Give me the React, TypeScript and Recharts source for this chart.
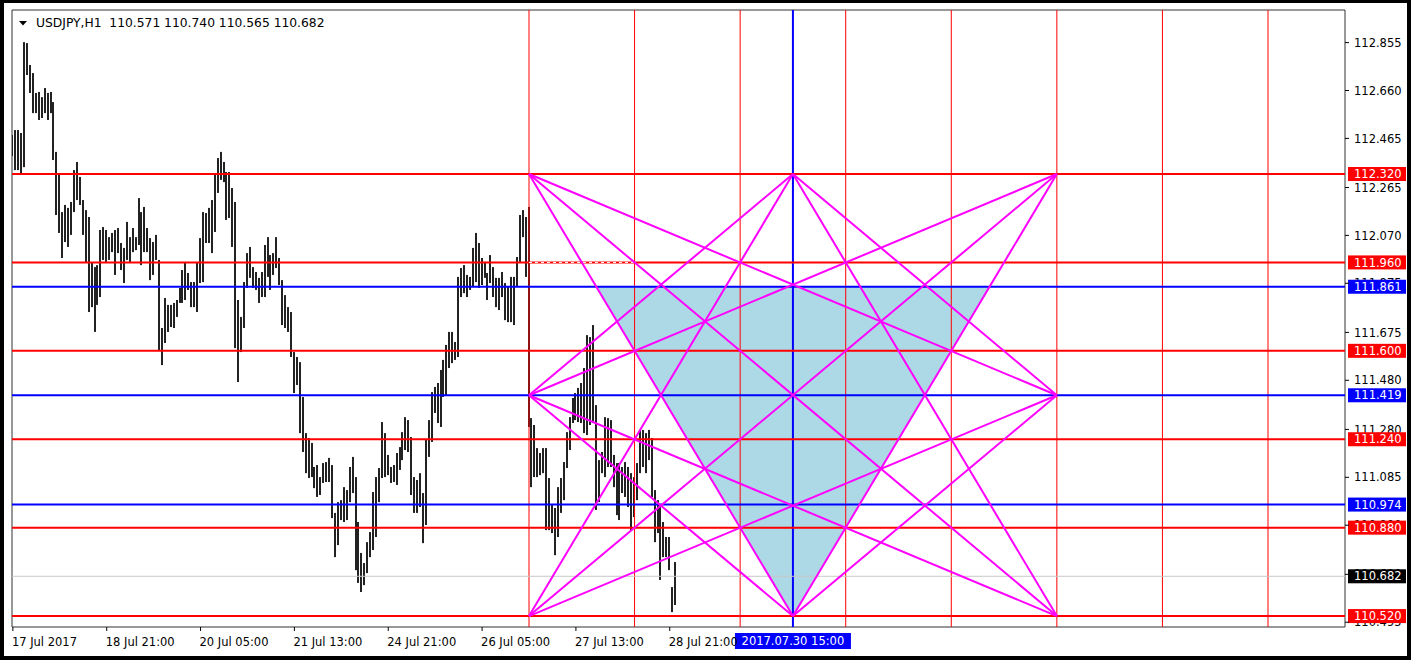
import React from 'react';
import { ComposedChart, Bar, XAxis, YAxis, ReferenceLine, ReferenceArea } from 'recharts';

// ---------- data ----------
const highs = [
  112.479, 112.499, 112.499, 112.487, 112.857, 112.853, 112.764, 112.731, 112.650, 112.654,
  112.633, 112.670, 112.650, 112.654, 112.613, 112.410, 112.324, 112.165, 112.194, 112.182,
  112.206, 112.336, 112.369, 112.308, 112.214, 112.173, 112.145, 111.958, 111.941, 111.949,
  112.092, 112.104, 112.092, 112.063, 112.080, 112.092, 112.100, 112.039, 112.019, 112.125,
  112.063, 112.100, 112.063, 112.222, 112.165, 112.186, 112.100, 112.059, 112.043, 112.072,
  111.970, 111.693, 111.815, 111.787, 111.787, 111.795, 111.807, 111.856, 111.929, 111.958,
  111.917, 111.880, 111.880, 111.958, 112.059, 112.165, 112.161, 112.182, 112.214, 112.324,
  112.385, 112.410, 112.369, 112.328, 112.328, 112.263, 112.206, 111.807, 111.738, 111.880,
  111.998, 112.023, 111.941, 111.921, 111.897, 111.921, 112.031, 112.063, 111.990, 111.998,
  112.063, 111.978, 111.888, 111.827, 111.778, 111.758, 111.595, 111.575, 111.554, 111.412,
  111.265, 111.245, 111.225, 111.127, 111.135, 111.086, 111.143, 111.147, 111.164, 111.135,
  110.940, 110.984, 110.992, 111.045, 111.033, 111.127, 111.168, 111.086, 110.903, 110.777,
  110.736, 110.821, 110.862, 111.025, 111.086, 111.123, 111.310, 111.265, 111.176, 111.127,
  111.135, 111.184, 111.208, 111.269, 111.330, 111.318, 111.249, 111.086, 111.074, 111.102,
  111.021, 111.237, 111.318, 111.432, 111.453, 111.469, 111.522, 111.563, 111.624, 111.677,
  111.677, 111.636, 111.901, 111.937, 111.949, 111.909, 111.901, 112.019, 112.080, 112.039,
  111.978, 111.962, 111.917, 111.990, 111.941, 111.897, 111.897, 111.921, 111.876, 111.860,
  111.901, 111.901, 111.982, 112.153, 112.173, 112.145, 112.186, 111.326, 111.298, 111.204,
  111.184, 111.204, 111.204, 111.082, 110.972, 110.960, 111.045, 111.082, 111.147, 111.269,
  111.330, 111.408, 111.428, 111.449, 111.469, 111.530, 111.664, 111.656, 111.705, 111.379,
  111.155, 111.188, 111.330, 111.326, 111.318, 111.176, 111.143, 111.143, 111.127, 111.147,
  111.127, 111.102, 111.086, 111.143, 111.278, 111.278, 111.265, 111.278, 111.245, 111.033,
  110.992, 110.964, 110.903, 110.842, 110.842, 110.638, 110.740,
];
const lows = [
  112.393, 112.336, 112.336, 112.324, 112.348, 112.723, 112.650, 112.568, 112.568, 112.540,
  112.548, 112.568, 112.540, 112.568, 112.377, 112.153, 112.080, 111.978, 112.043, 112.023,
  112.072, 112.165, 112.214, 112.194, 112.072, 111.958, 111.758, 111.778, 111.677, 111.787,
  111.819, 111.970, 111.962, 111.970, 112.002, 111.909, 111.998, 111.929, 111.876, 111.970,
  111.962, 112.002, 112.010, 112.031, 111.949, 112.002, 112.002, 111.888, 111.909, 111.970,
  111.603, 111.542, 111.632, 111.677, 111.697, 111.693, 111.738, 111.795, 111.795, 111.807,
  111.848, 111.778, 111.778, 111.758, 111.876, 111.880, 112.039, 112.039, 111.998, 112.084,
  112.243, 112.296, 112.287, 112.133, 112.141, 112.023, 111.611, 111.473, 111.595, 111.693,
  111.856, 111.897, 111.856, 111.848, 111.795, 111.819, 111.819, 111.901, 111.848, 111.909,
  111.937, 111.868, 111.705, 111.693, 111.677, 111.575, 111.428, 111.461, 111.265, 111.188,
  111.102, 111.082, 111.086, 111.041, 111.005, 111.013, 111.062, 111.066, 111.066, 110.919,
  110.760, 110.809, 110.911, 110.903, 110.911, 110.984, 111.021, 110.707, 110.655, 110.618,
  110.646, 110.695, 110.760, 110.789, 110.842, 110.984, 111.082, 111.086, 111.094, 111.062,
  111.066, 111.054, 111.115, 111.155, 111.196, 111.188, 111.013, 110.940, 110.940, 110.964,
  110.817, 110.891, 111.168, 111.229, 111.347, 111.306, 111.290, 111.412, 111.420, 111.530,
  111.550, 111.563, 111.575, 111.819, 111.835, 111.819, 111.848, 111.860, 111.880, 111.856,
  111.868, 111.897, 111.807, 111.876, 111.819, 111.778, 111.766, 111.819, 111.725, 111.717,
  111.717, 111.705, 111.860, 111.962, 112.063, 111.901, 111.290, 111.045, 111.086, 111.086,
  111.094, 111.102, 110.870, 110.870, 110.858, 110.768, 110.842, 110.940, 110.992, 111.123,
  111.196, 111.306, 111.318, 111.310, 111.306, 111.265, 111.257, 111.298, 111.306, 110.952,
  110.984, 111.102, 111.086, 111.127, 111.127, 111.045, 110.931, 110.911, 111.021, 111.005,
  110.964, 110.870, 110.923, 110.992, 111.102, 111.127, 111.102, 111.155, 111.005, 110.821,
  110.858, 110.667, 110.760, 110.760, 110.707, 110.536, 110.565,
];

const xTickIndex = [0, 32, 64, 96, 128, 160, 192, 224];
const xTickLabels = ['17 Jul 2017', '18 Jul 21:00', '20 Jul 05:00', '21 Jul 13:00', '24 Jul 21:00', '26 Jul 05:00', '27 Jul 13:00', '28 Jul 21:00'];
const yTicks = [112.855, 112.66, 112.465, 112.265, 112.07, 111.875, 111.675, 111.48, 111.28, 111.085, 110.89, 110.69, 110.495];

const redLevels = [112.32, 111.96, 111.6, 111.24, 110.88, 110.52];
const blueLevels = [111.861, 111.419, 110.974];
const lastPrice = 110.682;
const redVerticals = [176, 212, 248, 284, 320, 356, 392, 428];
const centerVertical = 266;
const centerVerticalLabel = '2017.07.30 15:00';
const starCols = [176, 266, 356];
const starRows = [112.32, 111.419, 110.52];
const shadeTop = 111.861;
const dashedLevel = 111.96;
const dashedFrom = 176;
const dashedTo = 212;
const titleText = 'USDJPY,H1  110.571 110.740 110.565 110.682';

const X_DOMAIN: [number, number] = [-0.3, 454.26];
const Y_DOMAIN: [number, number] = [110.4755, 112.9878];

// star lines: [col,row] -> [col,row]
const starLines: [number, number, number, number][] = [
  [0, 0, 1, 2], [0, 0, 2, 1], [0, 0, 2, 2],
  [2, 0, 1, 2], [2, 0, 0, 1], [2, 0, 0, 2],
  [0, 2, 1, 0], [0, 2, 2, 1],
  [2, 2, 1, 0], [2, 2, 0, 1],
  [0, 1, 1, 0], [0, 1, 1, 2], [2, 1, 1, 0], [2, 1, 1, 2],
];

const bars = highs.map((h, i) => ({ i, hl: [lows[i], h] }));

const FONT = '"DejaVu Sans", sans-serif';
const RED = '#ff0000';
const BLUE = '#0000ff';
const MAGENTA = '#ff00ff';

// ---------- helpers ----------
const PriceTag = (props: any) => {
  const { viewBox, bg, text } = props;
  if (!viewBox) return null;
  const x = viewBox.x + viewBox.width + 3;
  const y = viewBox.y;
  return (
    <g>
      <rect x={x} y={y - 7} width={58} height={14} fill={bg} />
      <text x={x + 6} y={y} dy="0.36em" fill="#fff" fontSize={11.5} fontFamily={FONT}>{text}</text>
    </g>
  );
};

const AxisText = (props: any) => {
  const { viewBox, text } = props;
  if (!viewBox) return null;
  const x = viewBox.x + viewBox.width + 9;
  return (
    <text x={x} y={viewBox.y} dy="0.36em" fill="#000" fontSize={11.5} fontFamily={FONT}>{text}</text>
  );
};

const DateTag = (props: any) => {
  const { viewBox, text } = props;
  if (!viewBox) return null;
  const cx = viewBox.x;
  const y = viewBox.y + viewBox.height + 6;
  return (
    <g>
      <rect x={cx - 58} y={y} width={116} height={16} fill={BLUE} />
      <text x={cx} y={y + 8} dy="0.36em" textAnchor="middle" fill="#fff" fontSize={11.5} fontFamily={FONT}>{text}</text>
    </g>
  );
};

const HLBar = (props: any) => {
  const { x, y, width, height } = props;
  if (x == null || y == null) return null;
  const cx = Math.round(x + width / 2);
  return <rect x={cx - 1} y={y} width={2} height={Math.max(1, height)} fill="#222" />;
};

const DownTriangle = (props: any) => {
  const { x, y, width, height } = props;
  return <polygon points={`${x},${y} ${x + width},${y} ${x + width / 2},${y + height}`} fill="#ADD8E6" stroke="none" />;
};

const XTick = (props: any) => {
  const { x, y, payload } = props;
  const k = xTickIndex.indexOf(payload.value);
  return (
    <text x={x - 1} y={y} dy="0.71em" textAnchor="start" fill="#000" fontSize={11.5} fontFamily={FONT}>
      {k >= 0 ? xTickLabels[k] : ''}
    </text>
  );
};

const EmptyTick = () => <g />;

const xOnLine = (c0: number, r0: number, c1: number, r1: number, yv: number) => {
  const x0 = starCols[c0], y0 = starRows[r0], x1 = starCols[c1], y1 = starRows[r1];
  return x0 + ((yv - y0) / (y1 - y0)) * (x1 - x0);
};

export default function App() {
  const shadeLeft = xOnLine(0, 0, 1, 2, shadeTop);
  const shadeRight = xOnLine(2, 0, 1, 2, shadeTop);
  return (
    <div style={{ position: 'absolute', left: 0, top: 0, width: 1414, height: 660, background: '#fff' }}>
      <ComposedChart
        width={1414}
        height={660}
        data={bars}
        margin={{ top: 10, right: 0, bottom: 0, left: 12 }}
      >
        <XAxis
          dataKey="i"
          type="number"
          domain={X_DOMAIN}
          allowDataOverflow
          ticks={xTickIndex}
          interval={0}
          height={33}
          axisLine={false}
          tickLine={{ stroke: '#000' }}
          tickSize={4}
          tickMargin={7}
          tick={<XTick />}
        />
        <YAxis
          orientation="right"
          type="number"
          domain={Y_DOMAIN}
          allowDataOverflow
          ticks={yTicks}
          interval={0}
          width={69}
          axisLine={false}
          tickLine={{ stroke: '#000' }}
          tickSize={4}
          tickMargin={5}
          tick={<EmptyTick />}
        />
        <ReferenceArea
          x1={shadeLeft}
          x2={shadeRight}
          y1={starRows[2]}
          y2={shadeTop}
          shape={<DownTriangle />}
        />
        {yTicks.map((v) => (
          <ReferenceLine
            key={'yt' + v}
            y={v}
            stroke="none"
            strokeOpacity={0}
            label={<AxisText text={v.toFixed(3)} />}
          />
        ))}
        {redVerticals.map((v) => (
          <ReferenceLine key={'rv' + v} x={v} stroke={RED} strokeWidth={1} />
        ))}
        <ReferenceLine
          x={centerVertical}
          stroke={BLUE}
          strokeWidth={2}
          label={<DateTag text={centerVerticalLabel} />}
        />
        <ReferenceLine
          y={lastPrice}
          stroke="#c8c8c8"
          strokeWidth={1}
          label={<PriceTag bg="#000" text={lastPrice.toFixed(3)} />}
        />
        {redLevels.map((v) => (
          <ReferenceLine key={'rh' + v} y={v} stroke={RED} strokeWidth={2} label={<PriceTag bg={RED} text={v.toFixed(3)} />} />
        ))}
        {blueLevels.map((v) => (
          <ReferenceLine key={'bh' + v} y={v} stroke={BLUE} strokeWidth={2} label={<PriceTag bg={BLUE} text={v.toFixed(3)} />} />
        ))}
        <ReferenceLine
          segment={[{ x: dashedFrom, y: dashedLevel }, { x: dashedTo, y: dashedLevel }]}
          stroke="#fff"
          strokeWidth={1}
          strokeDasharray="3 3"
        />
        <Bar dataKey="hl" barSize={2} shape={<HLBar />} isAnimationActive={false} />
        {starLines.map(([c0, r0, c1, r1], k) => (
          <ReferenceLine
            key={'st' + k}
            segment={[{ x: starCols[c0], y: starRows[r0] }, { x: starCols[c1], y: starRows[r1] }]}
            stroke={MAGENTA}
            strokeWidth={2}
          />
        ))}
        <ReferenceArea
          x1={X_DOMAIN[0]}
          x2={X_DOMAIN[1]}
          y1={Y_DOMAIN[0]}
          y2={Y_DOMAIN[1]}
          fill="none"
          fillOpacity={0}
          stroke="#333"
          strokeWidth={1}
          ifOverflow="visible"
        />
      </ComposedChart>
      <svg width={1414} height={660} style={{ position: 'absolute', left: 0, top: 0, pointerEvents: 'none' }}>
        <polygon points="19,21 27,21 23,25.5" fill="#000" />
        <text x={36} y={27} fill="#000" fontSize={12.3} fontFamily={FONT} style={{ whiteSpace: 'pre' }}>{titleText}</text>
        <rect x={0} y={0} width={4} height={660} fill="#000" />
        <rect x={0} y={0} width={1411} height={3} fill="#000" />
        <rect x={1407} y={0} width={4} height={660} fill="#000" />
        <rect x={0} y={656} width={1411} height={4} fill="#000" />
      </svg>
    </div>
  );
}
